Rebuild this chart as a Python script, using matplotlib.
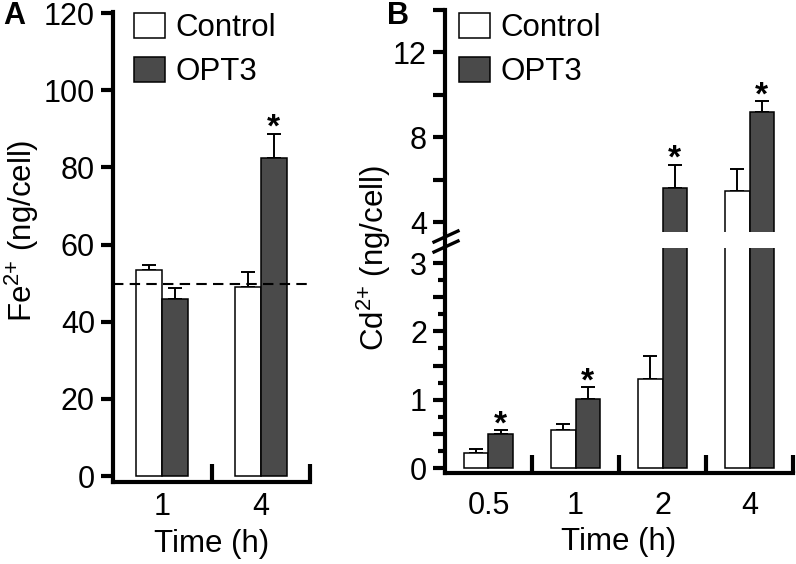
import matplotlib
matplotlib.use('Agg')
import matplotlib.pyplot as plt
import numpy as np
from matplotlib.lines import Line2D
from matplotlib.patches import Patch
from matplotlib.ticker import FixedLocator, FuncFormatter

plt.rcParams['font.family'] = ['Liberation Sans', 'DejaVu Sans']
plt.rcParams['mathtext.fontset'] = 'custom'
plt.rcParams['mathtext.rm'] = 'Liberation Sans'
plt.rcParams['mathtext.it'] = 'Liberation Sans:italic'

# Panel A: Fe2+ content
fe_times = ['1', '4']
fe_control = [53.3, 49.0]
fe_control_err = [1.4, 3.8]
fe_opt3 = [45.8, 82.5]
fe_opt3_err = [3.0, 6.3]
fe_signif = [False, True]
fe_baseline = 49.7

# Panel B: Cd2+ content
cd_times = ['0.5', '1', '2', '4']
cd_control = [0.22, 0.55, 1.31, 5.46]
cd_control_err = [0.06, 0.09, 0.33, 1.03]
cd_opt3 = [0.50, 1.01, 5.60, 9.18]
cd_opt3_err = [0.05, 0.17, 1.08, 0.51]
cd_signif = [True, True, True, True]

W, H = 796, 564
DARK = '#4a4a4a'
FS = 22
LFS = 22.5
SPINE_W = 3


def px_box(left, top, right, bottom):
    return [left / W, 1 - bottom / H, (right - left) / W, (bottom - top) / H]


def style_axes(ax):
    for s in ['top', 'right']:
        ax.spines[s].set_visible(False)
    for s in ['left', 'bottom']:
        ax.spines[s].set_linewidth(SPINE_W)
    ax.tick_params(axis='y', which='major', direction='out', length=9, width=SPINE_W,
                   labelsize=FS, pad=4)


def draw_bars(ax, ctrl, ctrl_err, opt, opt_err, signif, width):
    x = np.arange(len(ctrl)) + 0.5
    xc, xo = x - width / 2, x + width / 2
    ax.bar(xc, ctrl, width, color='white', edgecolor='black', linewidth=1.1, zorder=2)
    ax.bar(xo, opt, width, color=DARK, edgecolor='black', linewidth=1.1, zorder=2)
    for xx, v, e in [(xc, ctrl, ctrl_err), (xo, opt, opt_err)]:
        ax.errorbar(xx, v, yerr=[np.zeros(len(e)), e], fmt='none', ecolor='black',
                    elinewidth=1.4, capsize=4.7, capthick=1.4, zorder=1)
    for xx, v, e, s in zip(xo, opt, opt_err, signif):
        if s:
            ax.annotate('*', xy=(xx, v + e), xytext=(0, -2), textcoords='offset points',
                        ha='center', va='baseline', fontsize=24, fontweight='bold')


def group_xaxis(ax, labels, pad):
    n = len(labels)
    ax.set_xlim(0, n)
    ax.set_xticks(np.arange(1, n + 1))
    ax.set_xticklabels([])
    ax.set_xticks(np.arange(n) + 0.5, minor=True)
    ax.set_xticklabels(labels, minor=True)
    ax.tick_params(axis='x', which='major', direction='in', length=13, width=SPINE_W)
    ax.tick_params(axis='x', which='minor', length=0, labelsize=FS, pad=pad)


def add_legend(ax, x_px):
    handles = [Patch(facecolor='white', edgecolor='black', linewidth=1.1, label='Control'),
               Patch(facecolor=DARK, edgecolor='black', linewidth=1.1, label='OPT3')]
    ax.legend(handles=handles, loc='upper left', bbox_to_anchor=(x_px / W, 1 - 13 / H),
              bbox_transform=ax.figure.transFigure, frameon=False, fontsize=LFS,
              handlelength=1.0, handleheight=0.86, handletextpad=0.33,
              labelspacing=0.42, borderpad=0, borderaxespad=0)


fig = plt.figure(figsize=(W / 100, H / 100), dpi=100)

# ---- Panel A ----
axA = fig.add_axes(px_box(113, 12, 310, 482))
style_axes(axA)
draw_bars(axA, fe_control, fe_control_err, fe_opt3, fe_opt3_err, fe_signif, 0.265)
axA.axhline(fe_baseline, color='black', linewidth=1.5, linestyle=(0, (5, 3)), zorder=3)
axA.set_ylim(-1.55, 120.3)
axA.set_yticks(np.arange(0, 121, 20))
group_xaxis(axA, fe_times, 7)
axA.set_xlabel('Time (h)', fontsize=LFS, labelpad=5)
add_legend(axA, 134)
fig.text(22 / W, 1 - 231 / H, 'Fe$^{2{+}}$ (ng/cell)', rotation=90, ha='center', va='center',
         fontsize=LFS)
fig.text(3 / W, 1 - 16 / H, 'A', fontsize=22, fontweight='bold', ha='left', va='center')

# ---- Panel B (broken y axis) ----
axB_hi = fig.add_axes(px_box(445, 10, 793, 232))
axB_lo = fig.add_axes(px_box(445, 248, 793, 473))
for ax in (axB_hi, axB_lo):
    style_axes(ax)
    draw_bars(ax, cd_control, cd_control_err, cd_opt3, cd_opt3_err, cd_signif, 0.28)

axB_hi.spines['bottom'].set_visible(False)
axB_hi.set_xlim(0, len(cd_times))
axB_hi.set_xticks([])
axB_hi.set_ylim(3.53, 14)
axB_hi.yaxis.set_major_locator(FixedLocator([4, 8, 12]))
axB_hi.yaxis.set_minor_locator(FixedLocator([6, 10, 14]))
axB_hi.tick_params(axis='y', which='minor', direction='out', length=9, width=SPINE_W)

axB_lo.set_ylim(-0.073, 3.22)
axB_lo.yaxis.set_major_locator(FixedLocator(np.arange(0, 3.01, 0.5)))
axB_lo.yaxis.set_major_formatter(FuncFormatter(lambda v, p: f'{v:.0f}' if v == int(v) else ''))
axB_lo.yaxis.set_minor_locator(FixedLocator(np.arange(0.25, 3.01, 0.5)))
axB_lo.tick_params(axis='y', which='minor', direction='out', length=5, width=SPINE_W)
group_xaxis(axB_lo, cd_times, 13)
axB_lo.set_xlabel('Time (h)', fontsize=LFS, labelpad=4)
add_legend(axB_hi, 459)

# spine continuation across the break and break marks
x0 = 445 / W
fig.add_artist(Line2D([x0, x0], [1 - 248 / H, 1 - 232 / H], transform=fig.transFigure,
                      color='black', linewidth=SPINE_W, solid_capstyle='butt'))
for dy in (0, 10):
    fig.add_artist(Line2D([434 / W, 458 / W], [1 - (242 + dy) / H, 1 - (231 + dy) / H],
                          transform=fig.transFigure, color='black', linewidth=2.4))
fig.text(374 / W, 1 - 258 / H, 'Cd$^{2{+}}$ (ng/cell)', rotation=90, ha='center', va='center',
         fontsize=LFS)
fig.text(387 / W, 1 - 16 / H, 'B', fontsize=22, fontweight='bold', ha='left', va='center')

fig.savefig('out.png', dpi=100)
